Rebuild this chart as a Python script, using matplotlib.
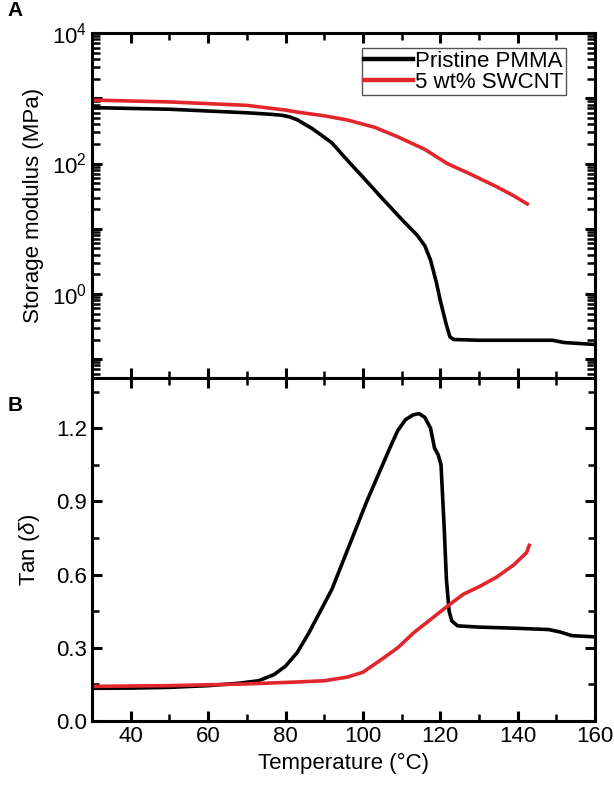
import numpy as np
import matplotlib.pyplot as plt
from matplotlib.ticker import FixedLocator, FuncFormatter, MultipleLocator, NullFormatter

# =========================================================
# DATA
# =========================================================

T_E_pmma = [30, 50, 70, 76, 79, 81, 83, 85, 87, 89, 92, 96, 100, 104.6, 110, 114, 116, 117.5,
            119, 120, 121.5, 122.5, 123.5, 130, 149, 152, 160]
E_pmma = [720, 680, 600, 570, 550, 520, 470, 400, 340, 280, 207, 112, 62, 31, 14, 8, 5.5, 3.3,
          1.5, 0.8, 0.35, 0.22, 0.2, 0.195, 0.195, 0.18, 0.168]

T_E_cnt = [30, 50, 70, 80, 83, 90, 96, 103, 109, 116, 121.8, 128, 134.6, 139, 142.5]
E_cnt = [940, 880, 780, 660, 615, 540, 465, 360, 257, 165, 100, 68, 44, 32, 24]

T_tan_pmma = [30, 40, 50, 60, 68, 73, 77, 80, 83, 86, 89, 92, 95, 98, 101, 104, 107, 109,
              111, 113, 114.5, 116, 117.5, 118.5, 119.5, 120.2, 121, 121.6, 122.3, 123,
              124.5, 130, 140, 148, 151, 154, 160]
tan_pmma = [0.134, 0.135, 0.138, 0.145, 0.155, 0.165, 0.19, 0.225, 0.28, 0.36, 0.45, 0.54,
            0.66, 0.78, 0.9, 1.01, 1.12, 1.19, 1.235, 1.255, 1.26, 1.245, 1.2, 1.12, 1.09,
            1.05, 0.8, 0.58, 0.45, 0.41, 0.39, 0.385, 0.38, 0.375, 0.365, 0.35, 0.345]

T_tan_cnt = [30, 50, 70, 83, 90, 96, 100, 104.6, 109, 113, 117, 121.8, 126, 130, 134.6,
             139, 142.3, 143]
tan_cnt = [0.142, 0.145, 0.152, 0.16, 0.165, 0.18, 0.2, 0.25, 0.3, 0.36, 0.41, 0.47, 0.52,
           0.55, 0.59, 0.64, 0.69, 0.72]

labels = ["Pristine PMMA", "5 wt% SWCNT"]
RED = "#e1262c"

# =========================================================
# STYLE
# =========================================================

plt.rcParams['font.family'] = ['Liberation Sans', 'DejaVu Sans']
plt.rcParams['mathtext.fontset'] = 'custom'
plt.rcParams['mathtext.rm'] = 'Liberation Sans'
plt.rcParams['mathtext.it'] = 'Liberation Sans:italic'
plt.rcParams['font.size'] = 16
plt.rcParams['axes.linewidth'] = 2.2

fig = plt.figure(figsize=(6.14, 7.88), dpi=100)
ax1 = fig.add_axes([0.150, 0.520, 0.819, 0.438])
ax2 = fig.add_axes([0.150, 0.085, 0.819, 0.435])


def style_ticks(ax):
    ax.xaxis.set_major_locator(MultipleLocator(20))
    ax.xaxis.set_minor_locator(MultipleLocator(10))
    ax.set_xlim(30, 160)
    ax.tick_params(which='both', direction='in', top=True, right=True, labelsize=16)
    ax.tick_params(which='major', length=7, width=2.2)
    ax.tick_params(which='minor', length=5, width=1.8)


# =========================================================
# PANEL A - storage modulus
# =========================================================

ax1.plot(T_E_pmma, E_pmma, color='black', lw=2.6, label=labels[0])
ax1.plot(T_E_cnt, E_cnt, color=RED, lw=2.6, label=labels[1])
ax1.set_yscale('log')
ax1.set_ylim(0.051, 1e4)
ax1.yaxis.set_major_locator(FixedLocator([0.1, 1, 10, 100, 1000, 10000]))
minor_E = [s * 10.0 ** d for d in range(-2, 4) for s in range(2, 10)]
ax1.yaxis.set_minor_locator(FixedLocator(minor_E))
ax1.yaxis.set_minor_formatter(NullFormatter())
style_ticks(ax1)
ax1.tick_params(axis='y', which='minor', length=5.5)


def log_fmt(v, pos):
    e = int(round(np.log10(v)))
    if e % 2 == 0:
        return r'$\mathregular{10^{%d}}$' % e
    return ''


ax1.yaxis.set_major_formatter(FuncFormatter(log_fmt))
ax1.tick_params(axis='x', labelbottom=False)
ax1.set_ylabel("Storage modulus (MPa)", fontsize=16, labelpad=6)

leg = ax1.legend(loc='upper right', bbox_to_anchor=(0.955, 0.975), fontsize=16,
                 frameon=True, fancybox=False, edgecolor='#555555', framealpha=1,
                 handlelength=2.2, handletextpad=0.1, borderpad=0.1,
                 labelspacing=0.0, borderaxespad=0.3)
leg.get_frame().set_linewidth(1.0)
for ln in leg.get_lines():
    ln.set_linewidth(3.2)

# =========================================================
# PANEL B - tan delta
# =========================================================

ax2.plot(T_tan_pmma, tan_pmma, color='black', lw=2.6)
ax2.plot(T_tan_cnt, tan_cnt, color=RED, lw=2.6)
ax2.set_ylim(0, 1.405)
ax2.yaxis.set_major_locator(MultipleLocator(0.3))
ax2.yaxis.set_minor_locator(MultipleLocator(0.15))
ax2.yaxis.set_major_formatter(FuncFormatter(lambda v, p: "%.1f" % v))
style_ticks(ax2)
ax2.set_ylabel(r"Tan ($\delta$)", fontsize=16, labelpad=10)
ax2.set_xlabel("Temperature (°C)", fontsize=16, labelpad=4)

fig.text(0.012, 0.987, "A", fontsize=15, fontweight='bold', va='center', ha='left')
fig.text(0.012, 0.486, "B", fontsize=15, fontweight='bold', va='center', ha='left')

fig.savefig("out.png", dpi=100)
